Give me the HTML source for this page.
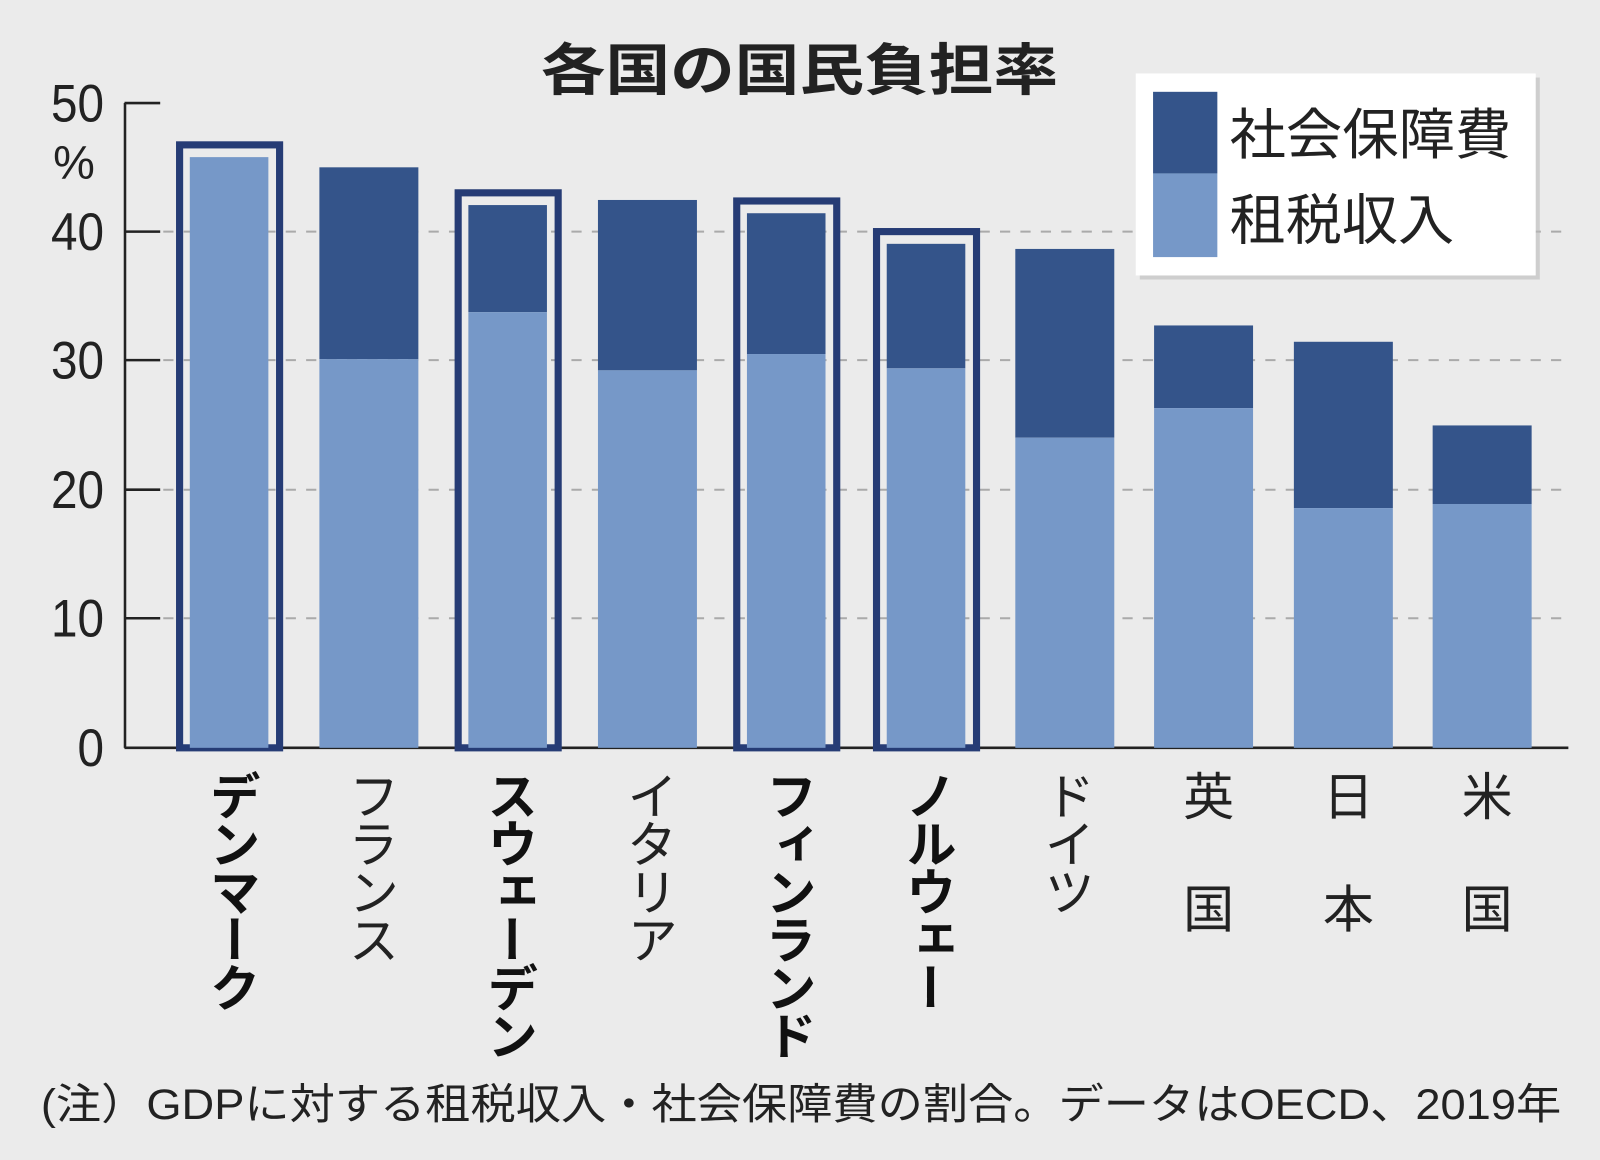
<!DOCTYPE html>
<html><head><meta charset="utf-8"><style>
html,body{margin:0;padding:0;background:#ebebeb;}
svg{display:block;}
text{font-family:"Liberation Sans","Noto Sans CJK JP",sans-serif;fill:#222;}
.v{writing-mode:vertical-rl;font-size:50px;letter-spacing:-3px;}
.b{font-weight:bold;fill:#111;}
.yl{font-size:52px;text-anchor:end;}
</style></head><body>
<svg width="1600" height="1160" viewBox="0 0 1568 1137" preserveAspectRatio="none" xmlns="http://www.w3.org/2000/svg">
<rect width="1568" height="1137" fill="#ebebeb"/>
<text x="530" y="88" font-size="55" font-weight="bold" fill="#222" textLength="507" lengthAdjust="spacingAndGlyphs">各国の国民負担率</text>
<g stroke="#aaa" stroke-width="2" stroke-dasharray="10,10">
<line x1="160" y1="227" x2="1537" y2="227"/>
<line x1="160" y1="353" x2="1537" y2="353"/>
<line x1="160" y1="480" x2="1537" y2="480"/>
<line x1="160" y1="606" x2="1537" y2="606"/>
</g>
<g stroke="#222" stroke-width="2.5" fill="none">
<line x1="122.5" y1="101" x2="122.5" y2="733"/>
<line x1="122" y1="101" x2="157" y2="101"/>
<line x1="122" y1="227" x2="157" y2="227"/>
<line x1="122" y1="353" x2="157" y2="353"/>
<line x1="122" y1="480" x2="157" y2="480"/>
<line x1="122" y1="606" x2="157" y2="606"/>
<line x1="122" y1="733" x2="1537" y2="733"/>
</g>
<text class="yl" x="102" y="119" textLength="52" lengthAdjust="spacingAndGlyphs">50</text>
<text class="yl" x="93" y="175" style="font-size:46px">%</text>
<text class="yl" x="102" y="245" textLength="52" lengthAdjust="spacingAndGlyphs">40</text>
<text class="yl" x="102" y="371" textLength="52" lengthAdjust="spacingAndGlyphs">30</text>
<text class="yl" x="102" y="498" textLength="52" lengthAdjust="spacingAndGlyphs">20</text>
<text class="yl" x="102" y="624" textLength="52" lengthAdjust="spacingAndGlyphs">10</text>
<text class="yl" x="102" y="751" textLength="26" lengthAdjust="spacingAndGlyphs">0</text>
<!-- Denmark -->
<rect x="176" y="142" width="98" height="591" fill="none" stroke="#263c75" stroke-width="7"/>
<rect x="186" y="154" width="77" height="579" fill="#7698c8"/>
<!-- France -->
<rect x="313" y="164" width="97" height="188" fill="#34548a"/>
<rect x="313" y="352" width="97" height="381" fill="#7698c8"/>
<!-- Sweden -->
<rect x="449" y="189" width="98" height="544" fill="none" stroke="#263c75" stroke-width="7"/>
<rect x="459" y="201" width="77" height="105" fill="#34548a"/>
<rect x="459" y="306" width="77" height="427" fill="#7698c8"/>
<!-- Italy -->
<rect x="586" y="196" width="97" height="167" fill="#34548a"/>
<rect x="586" y="363" width="97" height="370" fill="#7698c8"/>
<!-- Finland -->
<rect x="722" y="197" width="98" height="536" fill="none" stroke="#263c75" stroke-width="7"/>
<rect x="732" y="209" width="77" height="138" fill="#34548a"/>
<rect x="732" y="347" width="77" height="386" fill="#7698c8"/>
<!-- Norway -->
<rect x="859" y="227" width="98" height="506" fill="none" stroke="#263c75" stroke-width="7"/>
<rect x="869" y="239" width="77" height="122" fill="#34548a"/>
<rect x="869" y="361" width="77" height="372" fill="#7698c8"/>
<!-- Germany -->
<rect x="995" y="244" width="97" height="185" fill="#34548a"/>
<rect x="995" y="429" width="97" height="304" fill="#7698c8"/>
<!-- UK -->
<rect x="1131" y="319" width="97" height="81" fill="#34548a"/>
<rect x="1131" y="400" width="97" height="333" fill="#7698c8"/>
<!-- Japan -->
<rect x="1268" y="335" width="97" height="163" fill="#34548a"/>
<rect x="1268" y="498" width="97" height="235" fill="#7698c8"/>
<!-- US -->
<rect x="1404" y="417" width="97" height="77" fill="#34548a"/>
<rect x="1404" y="494" width="97" height="239" fill="#7698c8"/>
<!-- legend -->
<rect x="1117" y="76" width="392" height="198" fill="#bbb" opacity="0.6"/>
<rect x="1113" y="72" width="392" height="198" fill="#fff"/>
<rect x="1130" y="90" width="63" height="80" fill="#34548a"/>
<rect x="1130" y="170" width="63" height="82" fill="#7698c8"/>
<text x="1205" y="151" font-size="54" textLength="276" lengthAdjust="spacingAndGlyphs">社会保障費</text>
<text x="1205" y="235" font-size="54" textLength="220" lengthAdjust="spacingAndGlyphs">租税収入</text>
<!-- category labels -->
<text class="v b" x="226" y="755">デンマーク</text>
<text class="v" x="362" y="755">フランス</text>
<text class="v b" x="498" y="755">スウェーデン</text>
<text class="v" x="635" y="755">イタリア</text>
<text class="v b" x="771" y="755">フィンランド</text>
<text class="v b" x="908" y="755">ノルウェー</text>
<text class="v" x="1044" y="755">ドイツ</text>
<text class="v" x="1180" y="755" style="letter-spacing:60px">英国</text>
<text class="v" x="1317" y="755" style="letter-spacing:60px">日本</text>
<text class="v" x="1453" y="755" style="letter-spacing:60px">米国</text>
<text x="40" y="1097" font-size="42" textLength="1490" lengthAdjust="spacingAndGlyphs">(注）GDPに対する租税収入・社会保障費の割合。データはOECD、2019年</text>
</svg>
</body></html>
